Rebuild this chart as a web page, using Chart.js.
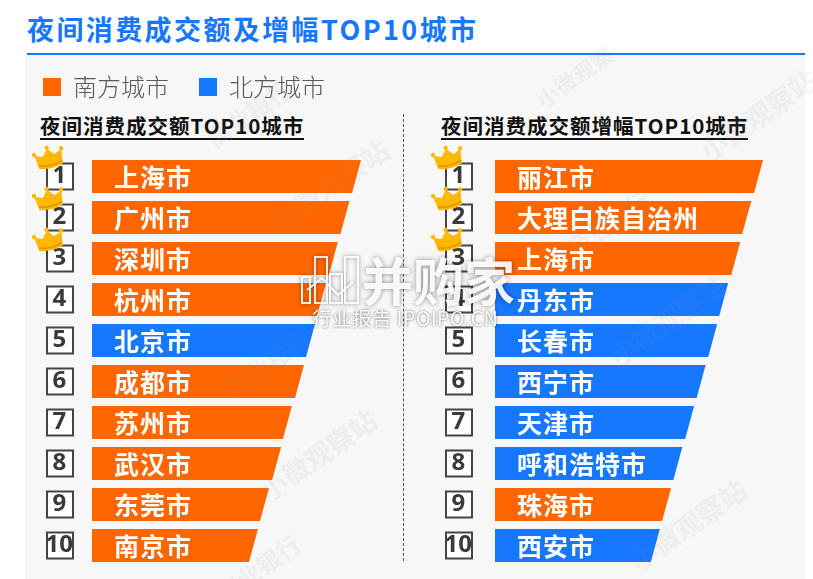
<!DOCTYPE html>
<html>
<head>
<meta charset="utf-8">
<script src="https://cdn.jsdelivr.net/npm/chart.js@4"></script>
<style>
html, body { margin: 0; padding: 0; background: #fff; overflow: hidden; }
body { width: 813px; height: 579px; position: relative; font-family: "Noto Sans CJK SC", sans-serif; }
#panel { position: absolute; left: 25px; top: 55px; width: 780px; height: 524px; background: #f7f7f7; }
#title { position: absolute; left: 27px; top: 10px; font-size: 27px; line-height: 38px; font-weight: 700; letter-spacing: 2.4px; color: #1677ff; white-space: nowrap; }
#rule { position: absolute; left: 27px; top: 53px; width: 778px; height: 2px; background: #1677ff; }
.sub { position: absolute; top: 111px; height: 27px; line-height: 29px; font-size: 20.5px; font-weight: 700; color: #111; white-space: nowrap; letter-spacing: 1px; border-bottom: 2px solid #111; }
#divider { position: absolute; left: 403px; top: 114px; height: 447px; border-left: 1px dashed #555; }
canvas { position: absolute; }
.wm { position: absolute; color: rgba(140,140,140,0.09); font-weight: 700; white-space: nowrap; transform: rotate(-35deg); }
#brand { position: absolute; left: 362px; top: 244px; font-size: 51px; line-height: 70px; font-weight: 700; color: rgba(255,255,255,0.92); text-shadow: 0 0 5px rgba(0,0,0,0.45); white-space: nowrap; }
#brandSub { position: absolute; left: 312px; top: 306px; font-size: 19.5px; line-height: 24px; letter-spacing: 0.5px; color: rgba(255,255,255,0.92); text-shadow: 0 0 3px rgba(0,0,0,0.6); white-space: nowrap; }
#brandIcon { position: absolute; left: 300px; top: 254px; filter: drop-shadow(0 0 2px rgba(0,0,0,0.5)); }
</style>
</head>
<body>
<div id="panel"></div>
<div id="title">夜间消费成交额及增幅TOP10城市</div>
<div id="rule"></div>
<div class="sub" style="left:40px">夜间消费成交额TOP10城市</div>
<div class="sub" style="left:441px">夜间消费成交额增幅TOP10城市</div>
<div id="divider"></div>
<canvas id="leftChart" width="348" height="521" style="left:13px;top:45px"></canvas>
<canvas id="rightChart" width="359" height="426" style="left:404px;top:140px"></canvas>
<div id="marks"></div>
<svg id="brandIcon" width="62" height="54" fill="none" stroke="rgba(255,255,255,0.9)" stroke-width="2">
  <rect x="2" y="23" width="8" height="26"/><rect x="15" y="3" width="12" height="46"/><rect x="30" y="20" width="12" height="29"/><rect x="45" y="3" width="13" height="46"/>
  <polyline points="7,36 22,24 38,41 53,28"/>
</svg>
<div id="brand">并购家</div>
<div id="brandSub">行业报告 IPOIPO.CN</div>
<script>
var ranks = ["1", "2", "3", "4", "5", "6", "7", "8", "9", "10"];

var amountCities = ["上海市", "广州市", "深圳市", "杭州市", "北京市", "成都市", "苏州市", "武汉市", "东莞市", "南京市"];
var amountValues = [100, 95.7, 91.4, 87, 82.9, 78.8, 74.3, 70.3, 65.8, 61.7];
var amountRegions = ["S", "S", "S", "S", "N", "S", "S", "S", "S", "S"];

var growthCities = ["丽江市", "大理白族自治州", "上海市", "丹东市", "长春市", "西宁市", "天津市", "呼和浩特市", "珠海市", "西安市"];
var growthValues = [100, 95.6, 91.5, 87, 82.9, 78.6, 74.3, 69.9, 65.7, 61.5];
var growthRegions = ["S", "S", "S", "N", "N", "N", "N", "N", "S", "N"];

var SOUTH = "#ff6600";
var NORTH = "#1677ff";
var FONT = '"Noto Sans CJK SC", sans-serif';
var SLANT = 9;

function pick(values, regions, region) {
    return values.map(function (v, i) { return regions[i] === region ? v : null; });
}

function crown(ctx, x, y) {
    ctx.save();
    ctx.translate(x, y);
    ctx.rotate(-14 * Math.PI / 180);
    ctx.fillStyle = "#ffb800";
    ctx.beginPath();
    ctx.moveTo(-12, 9);
    ctx.lineTo(-14, -5);
    ctx.lineTo(-6, -2);
    ctx.lineTo(0, -9);
    ctx.lineTo(6, -2);
    ctx.lineTo(14, -5);
    ctx.lineTo(12, 9);
    ctx.quadraticCurveTo(0, 13, -12, 9);
    ctx.fill();
    [[-14, -6], [0, -10], [14, -6]].forEach(function (p) {
        ctx.beginPath();
        ctx.arc(p[0], p[1], 2.2, 0, Math.PI * 2);
        ctx.fill();
    });
    ctx.strokeStyle = "#e88f00";
    ctx.lineWidth = 1.5;
    ctx.beginPath();
    ctx.moveTo(-12, 6);
    ctx.quadraticCurveTo(0, 10, 12, 6);
    ctx.stroke();
    ctx.restore();
}

// bars have a slanted right end, rank boxes sit behind the y ticks
var funnelRows = {
    id: "funnelRows",
    beforeDraw: function (chart, args, opts) {
        var ctx = chart.ctx, y = chart.scales.y;
        ctx.save();
        ranks.forEach(function (r, i) {
            var py = y.getPixelForTick(i);
            ctx.fillStyle = "#fff";
            ctx.strokeStyle = "#444";
            ctx.lineWidth = 2;
            ctx.fillRect(opts.boxX - 13, py - 13, 26, 26);
            ctx.strokeRect(opts.boxX - 13, py - 13, 26, 26);
        });
        ctx.restore();
    },
    beforeDatasetDraw: function (chart, args, opts) {
        var ctx = chart.ctx;
        var ds = chart.data.datasets[args.index];
        ctx.save();
        ctx.fillStyle = ds.backgroundColor;
        args.meta.data.forEach(function (el, i) {
            if (ds.data[i] === null) return;
            var t = el.y - el.height / 2, b = el.y + el.height / 2;
            ctx.beginPath();
            ctx.moveTo(el.base, t);
            ctx.lineTo(el.x, t);
            ctx.lineTo(el.x - SLANT, b);
            ctx.lineTo(el.base, b);
            ctx.closePath();
            ctx.fill();
        });
        ctx.restore();
        return false;
    },
    afterDatasetsDraw: function (chart, args, opts) {
        var ctx = chart.ctx, y = chart.scales.y, x0 = chart.scales.x.getPixelForValue(0);
        ctx.save();
        ctx.fillStyle = "#fff";
        ctx.font = "700 25px " + FONT;
        ctx.letterSpacing = "1px";
        ctx.textBaseline = "middle";
        opts.cities.forEach(function (c, i) {
            ctx.fillText(c, x0 + 22, y.getPixelForTick(i) + 1);
        });
        ctx.restore();
    },
    afterDraw: function (chart, args, opts) {
        var y = chart.scales.y;
        for (var i = 0; i < 3; i++) {
            crown(chart.ctx, opts.boxX - 11, y.getPixelForTick(i) - 19);
        }
    }
};

function makeChart(id, cities, values, regions, axisWidth, tickPad, boxX, showLegend) {
    return new Chart(document.getElementById(id), {
        type: "bar",
        plugins: [funnelRows, {
            id: "legendRoom",
            beforeInit: function (chart) {
                if (!showLegend) return;
                var fit = chart.legend.fit;
                chart.legend.fit = function () {
                    fit.call(this);
                    this.height = 111;
                };
            }
        }],
        data: {
            labels: ranks,
            datasets: [
                { label: "南方城市", data: pick(values, regions, "S"), backgroundColor: SOUTH, barThickness: 33, grouped: false },
                { label: "北方城市", data: pick(values, regions, "N"), backgroundColor: NORTH, barThickness: 33, grouped: false }
            ]
        },
        options: {
            indexAxis: "y",
            responsive: false,
            animation: false,
            layout: { padding: { top: showLegend ? 0 : 16 } },
            scales: {
                x: { display: false, min: 0, max: 100 },
                y: {
                    grid: { display: false },
                    border: { display: false },
                    afterFit: function (scale) {
                        scale.width = axisWidth;
                        scale.paddingTop = 0;
                        scale.paddingBottom = 0;
                    },
                    ticks: {
                        autoSkip: false,
                        crossAlign: "center",
                        padding: tickPad,
                        color: "#3a3a3a",
                        font: { family: '"Liberation Sans Narrow", "Noto Sans", sans-serif', size: 24, weight: "bold" }
                    }
                }
            },
            plugins: {
                tooltip: { enabled: false },
                funnelRows: { cities: cities, boxX: boxX },
                legend: {
                    display: showLegend,
                    align: "start",
                    labels: {
                        boxWidth: 18,
                        boxHeight: 18,
                        padding: 30,
                        color: "#5a5a5a",
                        font: { family: FONT, size: 24, weight: "300" }
                    }
                }
            }
        }
    });
}

makeChart("leftChart", amountCities, amountValues, amountRegions, 79, 11, 47, true);
makeChart("rightChart", growthCities, growthValues, growthRegions, 91, 15, 55, false);

// faint background watermarks
var marks = [
    ["小微观察站", 262, 165, 27], ["商业银行", 200, 95, 24], ["小微观察", 530, 60, 22], ["商业银行", 560, 205, 24],
    ["小微观察站", 600, 300, 27], ["商业银行", 220, 345, 24], ["小微观察站", 250, 435, 27], ["小微观察站", 620, 505, 27],
    ["商业银行", 210, 550, 24], ["小微观察站", 690, 95, 27]
];
marks.forEach(function (m) {
    var d = document.createElement("div");
    d.className = "wm";
    d.textContent = m[0];
    d.style.left = m[1] + "px";
    d.style.top = m[2] + "px";
    d.style.fontSize = m[3] + "px";
    document.getElementById("marks").appendChild(d);
});
</script>
</body>
</html>
